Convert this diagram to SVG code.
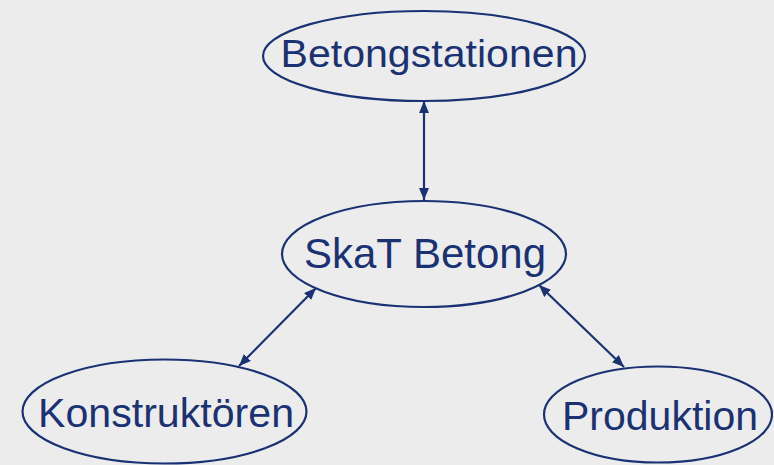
<svg xmlns="http://www.w3.org/2000/svg" width="774" height="465" viewBox="0 0 774 465">
<defs>
<style>
.node ellipse{fill:none;stroke:#1a3274;stroke-width:2.2}
.node text{font-family:"Liberation Sans",Arial,sans-serif;fill:#1a3274;text-anchor:middle}
.conn line{stroke:#1a3274;stroke-width:2.2;marker-start:url(#ah);marker-end:url(#ah)}
</style>
<marker id="ah" viewBox="0 0 12 10" refX="12" refY="5" markerWidth="12" markerHeight="10" markerUnits="userSpaceOnUse" orient="auto-start-reverse">
<path d="M0,0 L12,5 L0,10 Z" fill="#1a3274"/>
</marker>
</defs>
<rect width="774" height="465" fill="#ececec"/>
<g id="connectors" class="conn">
<line x1="424" y1="101" x2="424" y2="200"/>
<line x1="316" y1="288" x2="239" y2="366"/>
<line x1="539" y1="285" x2="624" y2="367"/>
</g>
<g id="betongstationen" class="node">
<ellipse cx="424" cy="56" rx="161" ry="45"/>
<text x="429" y="67" font-size="39" textLength="297" lengthAdjust="spacingAndGlyphs">Betongstationen</text>
</g>
<g id="skat" class="node">
<ellipse cx="424" cy="254" rx="142" ry="53"/>
<text x="425" y="268" font-size="42">SkaT Betong</text>
</g>
<g id="konstruktoren" class="node">
<ellipse cx="164.5" cy="411.5" rx="142" ry="52"/>
<text x="166" y="427" font-size="41" textLength="256" lengthAdjust="spacingAndGlyphs">Konstruktören</text>
</g>
<g id="produktion" class="node">
<ellipse cx="658" cy="414.5" rx="114" ry="48"/>
<text x="660" y="430" font-size="41" textLength="196" lengthAdjust="spacingAndGlyphs">Produktion</text>
</g>
</svg>
